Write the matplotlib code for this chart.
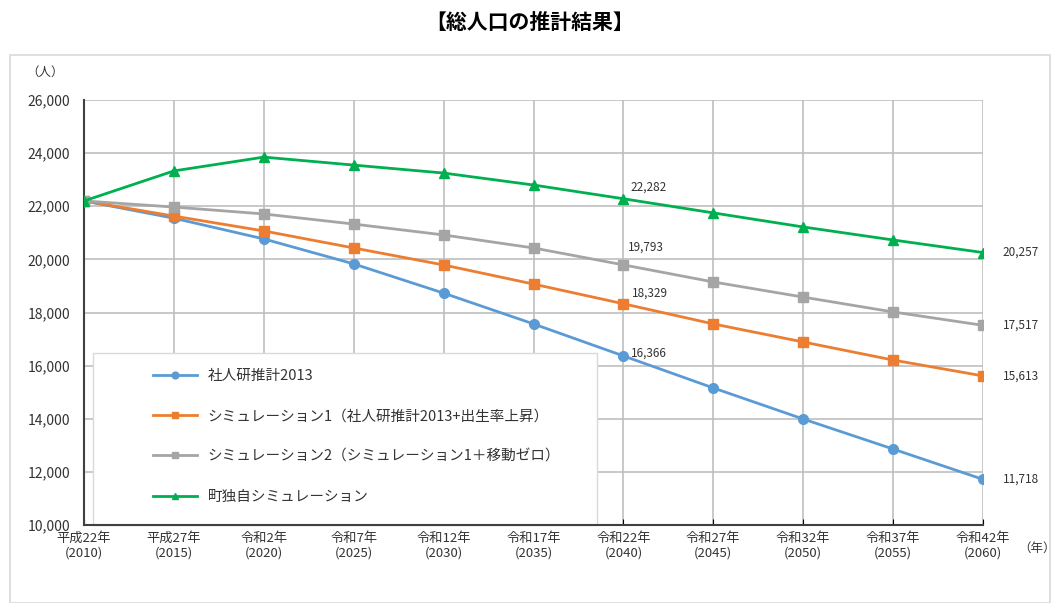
import matplotlib
matplotlib.use("Agg")
import matplotlib.pyplot as plt
from matplotlib.patches import Rectangle
from matplotlib.ticker import FuncFormatter

plt.rcParams['font.family'] = ['Noto Sans CJK JP', 'DejaVu Sans']

# 年次ラベル
years = ['平成22年\n(2010)', '平成27年\n(2015)', '令和2年\n(2020)', '令和7年\n(2025)',
         '令和12年\n(2030)', '令和17年\n(2035)', '令和22年\n(2040)', '令和27年\n(2045)',
         '令和32年\n(2050)', '令和37年\n(2055)', '令和42年\n(2060)']

# 推計人口（人）
ipss_2013 = [22200, 21550, 20770, 19830, 18730, 17570, 16366, 15160, 13990, 12860, 11718]
sim1 = [22200, 21630, 21070, 20430, 19790, 19070, 18329, 17570, 16890, 16210, 15613]
sim2 = [22200, 21970, 21710, 21330, 20920, 20430, 19793, 19150, 18580, 18020, 17517]
town_sim = [22200, 23330, 23850, 23550, 23250, 22800, 22282, 21750, 21220, 20730, 20257]

names = ['社人研推計2013',
         'シミュレーション1（社人研推計2013+出生率上昇）',
         'シミュレーション2（シミュレーション1＋移動ゼロ）',
         '町独自シミュレーション']
colors = ['#5B9BD5', '#ED7D31', '#A5A5A5', '#00B050']
markers = ['o', 's', 's', '^']

fig = plt.figure(figsize=(10.6, 6.03), dpi=100)
fig.patches.append(Rectangle((10 / 1060, 0), 1040 / 1060, 1 - 55 / 603,
                             transform=fig.transFigure, fill=False,
                             edgecolor='#D9D9D9', linewidth=1.2))
fig.text(0.5, 0.963, '【総人口の推計結果】', ha='center', va='center',
         fontsize=15, fontweight='bold')

ax = fig.add_axes([84 / 1060, 1 - 525 / 603, 899 / 1060, 425 / 603])
x = list(range(len(years)))
for vals, name, c, m in zip([ipss_2013, sim1, sim2, town_sim], names, colors, markers):
    ax.plot(x, vals, color=c, marker=m, markersize=7, linewidth=2, label=name, zorder=3)

ax.set_xlim(0, 10)
ax.set_ylim(10000, 26000)
ax.set_yticks(range(10000, 26001, 2000))
ax.yaxis.set_major_formatter(FuncFormatter(lambda v, p: f'{int(v):,}'))
ax.set_xticks(x)
ax.set_xticklabels(years, fontsize=9.5, color='#333333', linespacing=1.2)
ax.tick_params(axis='y', labelsize=10, colors='#333333', length=0, pad=10)
ax.tick_params(axis='x', length=4, direction='in', pad=5)
ax.grid(True, color='#BFBFBF', linewidth=1.2, zorder=0)
for s in ['top', 'right']:
    ax.spines[s].set_visible(False)
for s in ['left', 'bottom']:
    ax.spines[s].set_color('#404040')
    ax.spines[s].set_linewidth(1.5)

# 数値ラベル
lab = dict(fontsize=8.5, color='#333333')
ax.text(6.08, town_sim[6] + 420, f'{town_sim[6]:,}', ha='left', va='center', **lab)
ax.text(6.05, sim2[6] + 650, f'{sim2[6]:,}', ha='left', va='center', **lab)
ax.text(6.1, sim1[6] + 400, f'{sim1[6]:,}', ha='left', va='center', **lab)
ax.text(6.08, ipss_2013[6] + 100, f'{ipss_2013[6]:,}', ha='left', va='center', **lab)
for vals in [town_sim, sim2, sim1, ipss_2013]:
    ax.text(10.22, vals[-1], f'{vals[-1]:,}', ha='left', va='center', clip_on=False, **lab)

fig.text(45 / 1060, 1 - 72 / 603, '（人）', ha='center', va='center', fontsize=9, color='#333333')
fig.text(1037 / 1060, 1 - 548 / 603, '（年）', ha='center', va='center', fontsize=9, color='#333333')

# 凡例の枠（グリッドの上、線の下）
ax.add_patch(Rectangle((9 / 899, 0), 504 / 899, 172 / 425, transform=ax.transAxes,
                       facecolor='white', edgecolor='#D9D9D9', linewidth=1,
                       zorder=2.5, clip_on=False))
leg = ax.legend(loc='upper left', bbox_to_anchor=(69 / 899, 156 / 425), fontsize=10.5,
                frameon=False, borderpad=0, borderaxespad=0, labelspacing=1.8,
                handlelength=3.0, handletextpad=0.75, markerscale=0.7)
leg.set_zorder(5)
for t in leg.get_texts():
    t.set_color('#333333')

fig.savefig('out.png', dpi=100)
